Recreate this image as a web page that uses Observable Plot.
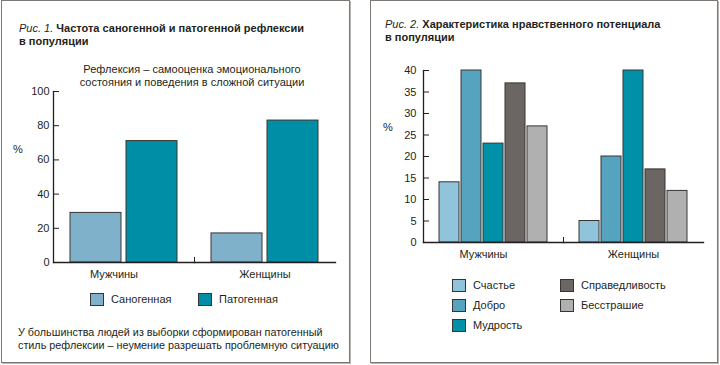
<!DOCTYPE html>
<html><head><meta charset="utf-8">
<script src="https://cdn.jsdelivr.net/npm/d3@7"></script>
<script src="https://cdn.jsdelivr.net/npm/@observablehq/plot@0.6"></script>
<style>
body{margin:0;width:720px;height:365px;position:relative;background:#fff;font-family:"Liberation Sans",Arial,sans-serif;color:#231f20;overflow:hidden}
.panel{position:absolute;top:0;height:363px;border:1px solid #7d7874;box-shadow:1px 1px 0 #b8b5b2;box-sizing:border-box}
.abs{position:absolute;white-space:nowrap}
.title{font-size:11px;font-weight:bold;line-height:13px}
.title i{font-weight:normal}
.txt{font-size:11px;line-height:13px}
.sw{position:absolute;width:14px;height:13px;box-sizing:border-box;border:1px solid #3a3431}
svg{position:absolute}
</style></head>
<body>
<div class="panel" style="left:1px;width:349px"></div>
<div class="panel" style="left:370px;width:348px"></div>

<div class="abs title" style="left:19px;top:22px"><i>Рис. 1.</i> Частота саногенной и патогенной рефлексии<br>в популяции</div>
<div class="abs txt" style="left:72px;top:63px;width:240px;text-align:center;white-space:normal">Рефлексия – самооценка эмоционального<br>состояния и поведения в сложной ситуации</div>
<div class="abs txt" style="left:13px;top:143px">%</div>
<div class="abs txt" style="left:18px;top:326px;font-size:10.8px">У большинства людей из выборки сформирован патогенный<br>стиль рефлексии – неумение разрешать проблемную ситуацию</div>

<div class="abs title" style="left:385px;top:18px"><i>Рис. 2.</i> Характеристика нравственного потенциала<br>в популяции</div>
<div class="abs txt" style="left:383px;top:121px">%</div>

<div id="c1"></div>
<div id="c2"></div>
<div id="leg1"></div>
<div id="leg2"></div>

<script>
// Figure 1 data
const fig1Groups = ["Мужчины", "Женщины"];
const fig1Series = ["Саногенная", "Патогенная"];
const fig1Men = [29, 71];
const fig1Women = [17, 83];
const fig1Ticks = [0, 20, 40, 60, 80, 100];
const fig1Colors = ["#7fb2ca", "#008ea6"];

// Figure 2 data
const fig2Groups = ["Мужчины", "Женщины"];
const fig2Series = ["Счастье", "Добро", "Мудрость", "Справедливость", "Бесстрашие"];
const fig2Men = [14, 40, 23, 37, 27];
const fig2Women = [5, 20, 40, 17, 12];
const fig2Ticks = [0, 5, 10, 15, 20, 25, 30, 35, 40];
const fig2Colors = ["#8fc4db", "#56a3c0", "#0090a8", "#6b6663", "#b1b0b0"];

const ink = "#231f20";
const outline = "#3a3431";

function chart(o) {
  const data = o.groups.flatMap((g, gi) => o.series.map((s, si) => ({group: g, series: s, value: o.values[gi][si]})));
  const innerH = o.height - o.mt - o.mb;
  const svg = Plot.plot({
    width: o.width, height: o.height,
    marginLeft: o.ml, marginRight: o.mr, marginTop: o.mt, marginBottom: o.mb,
    style: {fontFamily: '"Liberation Sans", Arial, sans-serif', fontSize: "11px", color: ink, background: "transparent", overflow: "visible"},
    fx: {domain: o.groups, paddingInner: 0, paddingOuter: 0, label: null},
    x: {domain: o.series, paddingInner: o.padIn, paddingOuter: o.padOut, axis: null},
    y: {domain: [0, o.yMax], label: null},
    color: {domain: o.series, range: o.colors},
    marks: [
      Plot.barY(data, {fx: "group", x: "series", y: "value", fill: "series", stroke: outline, strokeWidth: 1}),
      Plot.frame({anchor: "bottom", stroke: ink, strokeWidth: 1.3}),
      Plot.frame({anchor: "left", facetAnchor: "left", stroke: ink, strokeWidth: 1.3}),
      Plot.frame({anchor: "right", facetAnchor: "left", stroke: ink, insetTop: innerH - 5}),
      Plot.axisY({ticks: o.ticks, tickSize: -6, tickPadding: o.tickPad, facetAnchor: "left", label: null, stroke: ink}),
      Plot.axisFx({anchor: "bottom", ticks: [o.groups[0]], tickSize: 0, tickPadding: 8, dx: -10, label: null}),
      Plot.axisFx({anchor: "bottom", ticks: [o.groups[1]], tickSize: 0, tickPadding: 8, label: null})
    ]
  });
  svg.style.left = o.left + "px";
  svg.style.top = o.top + "px";
  return svg;
}

document.getElementById("c1").append(chart({
  groups: fig1Groups, series: fig1Series, values: [fig1Men, fig1Women], colors: fig1Colors,
  ticks: fig1Ticks, yMax: 100, width: 350, height: 230, left: 0, top: 60,
  ml: 53, mr: 15, mt: 31, mb: 28, padIn: 0.09, padOut: 0.3, tickPad: 10
}));
document.getElementById("c2").append(chart({
  groups: fig2Groups, series: fig2Series, values: [fig2Men, fig2Women], colors: fig2Colors,
  ticks: fig2Ticks, yMax: 40, width: 360, height: 220, left: 360, top: 50,
  ml: 62, mr: 17, mt: 20, mb: 28, padIn: 0.1, padOut: 0.66, tickPad: 13
}));

function legend(el, series, colors, x0, y0, colW, rowH, perCol) {
  series.forEach((s, i) => {
    const col = Math.floor(i / perCol), row = i % perCol;
    const x = x0 + col * colW, y = y0 + row * rowH;
    const sw = document.createElement("div");
    sw.className = "sw";
    sw.style.left = x + "px"; sw.style.top = y + "px"; sw.style.background = colors[i];
    const t = document.createElement("div");
    t.className = "abs txt";
    t.style.left = (x + 21) + "px"; t.style.top = y + "px";
    t.textContent = s;
    el.append(sw, t);
  });
}
legend(document.getElementById("leg1"), fig1Series, fig1Colors, 90, 293, 108, 20, 1);
legend(document.getElementById("leg2"), fig2Series, fig2Colors, 452, 279, 108, 20, 3);
</script>
</body></html>
